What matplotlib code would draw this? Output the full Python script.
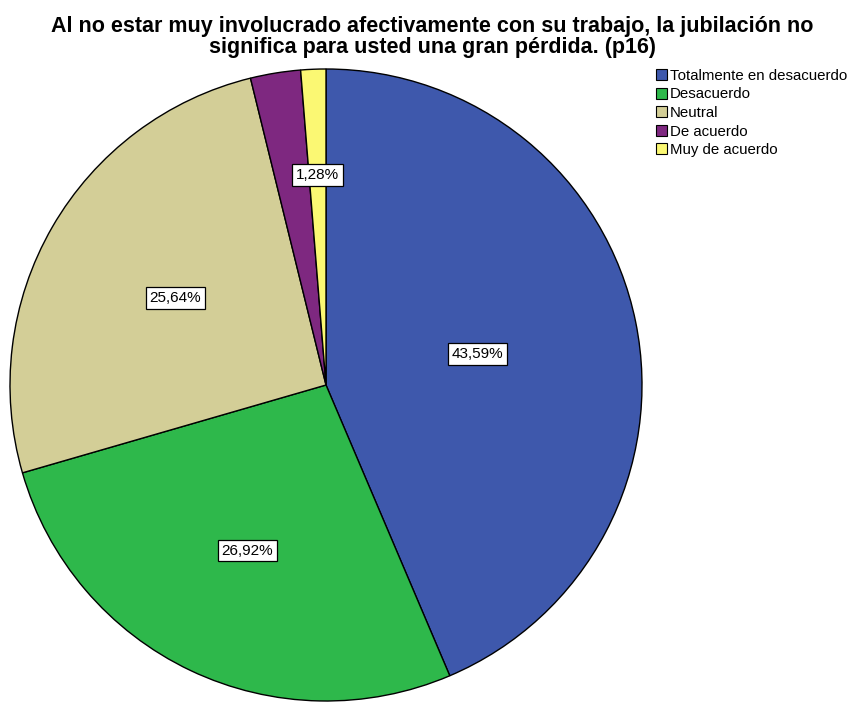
import matplotlib
matplotlib.use("Agg")
import matplotlib.pyplot as plt
import numpy as np
from matplotlib.patches import Patch

categories = ["Totalmente en desacuerdo", "Desacuerdo", "Neutral", "De acuerdo", "Muy de acuerdo"]
values = [43.59, 26.92, 25.64, 2.56, 1.28]
shown_labels = ["43,59%", "26,92%", "25,64%", None, "1,28%"]
label_dist = [0.49, 0.58, 0.55, 0.0, 0.665]
colors = ["#3E58AC", "#2EB84B", "#D3CE97", "#7E2880", "#FBF873"]

plt.rcParams['font.family'] = ['Liberation Sans', 'DejaVu Sans']

fig = plt.figure(figsize=(8.55, 7.02), dpi=100)
W, H = 855, 702
cx, cy, r = 326, 385, 316
ax = fig.add_axes([(cx - r) / W, (H - cy - r) / H, 2 * r / W, 2 * r / H])

wedges, _ = ax.pie(values, colors=colors, startangle=90, counterclock=False,
                   radius=1.0, wedgeprops=dict(edgecolor='black', linewidth=1.0))
ax.set_xlim(-1, 1)
ax.set_ylim(-1, 1)
ax.set_aspect('equal')
ax.axis('off')

for w, lab, d in zip(wedges, shown_labels, label_dist):
    if lab is None:
        continue
    ang = np.deg2rad((w.theta1 + w.theta2) / 2)
    ax.text(d * np.cos(ang), d * np.sin(ang), lab, ha='center', va='center', fontsize=11,
            bbox=dict(boxstyle='square,pad=0.25', facecolor='white', edgecolor='black', linewidth=0.9))

fig.text(432 / W, 1 - 37 / H,
         "Al no estar muy involucrado afectivamente con su trabajo, la jubilación no\nsignifica para usted una gran pérdida. (p16)",
         ha='center', va='center', fontsize=15.5, fontweight='bold', linespacing=0.95)

handles = [Patch(facecolor=c, edgecolor='black', linewidth=0.8) for c in colors]
fig.legend(handles, categories, loc='upper left', bbox_to_anchor=(656 / W, 1 - 69 / H),
           frameon=False, fontsize=10.8, handlelength=0.75, handleheight=0.75,
           handletextpad=0.15, labelspacing=0.3, borderaxespad=0, borderpad=0)

fig.savefig("out.png", dpi=100)
